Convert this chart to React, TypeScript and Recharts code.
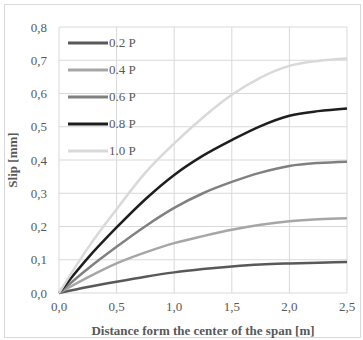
import React from 'react';
import { LineChart, Line, XAxis, YAxis, CartesianGrid } from 'recharts';

const distance = [0, 0.25, 0.5, 0.75, 1.0, 1.25, 1.5, 1.75, 2.0, 2.25, 2.5];
const slip02 = [0, 0.018, 0.034, 0.049, 0.062, 0.072, 0.08, 0.086, 0.089, 0.091, 0.093];
const slip04 = [0, 0.047, 0.089, 0.122, 0.15, 0.171, 0.19, 0.205, 0.216, 0.222, 0.225];
const slip06 = [0, 0.073, 0.139, 0.201, 0.256, 0.3, 0.334, 0.362, 0.382, 0.391, 0.395];
const slip08 = [0, 0.105, 0.197, 0.282, 0.355, 0.413, 0.46, 0.502, 0.533, 0.547, 0.555];
const slip10 = [0, 0.135, 0.252, 0.362, 0.45, 0.528, 0.596, 0.648, 0.683, 0.698, 0.705];

const xTicks = [0, 0.5, 1.0, 1.5, 2.0, 2.5];
const yTicks = [0, 0.1, 0.2, 0.3, 0.4, 0.5, 0.6, 0.7, 0.8];

const series = [
  { key: 'p02', name: '0.2 P', color: '#595959', values: slip02 },
  { key: 'p04', name: '0.4 P', color: '#a6a6a6', values: slip04 },
  { key: 'p06', name: '0.6 P', color: '#808080', values: slip06 },
  { key: 'p08', name: '0.8 P', color: '#1e1e1e', values: slip08 },
  { key: 'p10', name: '1.0 P', color: '#d9d9d9', values: slip10 },
];

const data = distance.map((d, i) => {
  const row: any = { d };
  series.forEach(s => { row[s.key] = s.values[i]; });
  return row;
});

const font = '"Liberation Serif", "Times New Roman", serif';
const fmt = (v: number) => v.toFixed(1).replace('.', ',');

// legend sits inside the plot, drawn over it without taking layout space
const LegendBox = () => (
  <div style={{ position: 'absolute', left: 68, top: 29, fontFamily: font, fontSize: 13, color: '#595959', pointerEvents: 'none' }}>
    {series.map(s => (
      <div key={s.key} style={{ display: 'flex', alignItems: 'center', height: 27 }}>
        <svg width={40} height={4} style={{ display: 'block' }}>
          <line x1={0} y1={2} x2={40} y2={2} stroke={s.color} strokeWidth={3} />
        </svg>
        <span style={{ marginLeft: 1 }}>{s.name}</span>
      </div>
    ))}
  </div>
);

const App: React.FC = () => {
  return (
    <div style={{ position: 'absolute', left: 0, top: 0, width: 363, height: 340, background: '#fff' }}>
      <div style={{ position: 'absolute', left: 4, top: 4, width: 355, height: 332, border: '1px solid #d9d9d9' }} />
      <LineChart
        width={363}
        height={340}
        data={data}
        margin={{ top: 27, right: 16, bottom: 0, left: 9 }}
      >
        <CartesianGrid stroke="#d9d9d9" strokeWidth={1} />
        <XAxis
          dataKey="d"
          type="number"
          domain={[0, 2.5]}
          ticks={xTicks}
          tickFormatter={fmt}
          height={47}
          axisLine={false}
          tickLine={false}
          tickSize={0}
          tickMargin={9}
          tick={{ fill: '#595959', fontSize: 13, fontFamily: font }}
          label={{
            value: 'Distance form the center of the span [m]',
            position: 'insideBottom',
            offset: 5,
            fill: '#595959',
            fontSize: 13,
            fontWeight: 'bold',
            fontFamily: font,
          }}
        />
        <YAxis
          type="number"
          domain={[0, 0.8]}
          ticks={yTicks}
          tickFormatter={fmt}
          width={50}
          axisLine={false}
          tickLine={false}
          tickSize={0}
          tickMargin={12}
          tick={{ fill: '#595959', fontSize: 13, fontFamily: font }}
          label={{
            value: 'Slip [mm]',
            angle: -90,
            position: 'insideLeft',
            offset: 3,
            fill: '#595959',
            fontSize: 13,
            fontWeight: 'bold',
            fontFamily: font,
            style: { textAnchor: 'middle' },
          }}
        />
        {series.map(s => (
          <Line
            key={s.key}
            dataKey={s.key}
            name={s.name}
            type="monotone"
            stroke={s.color}
            strokeWidth={2.5}
            dot={false}
            isAnimationActive={false}
          />
        ))}
      </LineChart>
      <LegendBox />
    </div>
  );
};

export default App;
